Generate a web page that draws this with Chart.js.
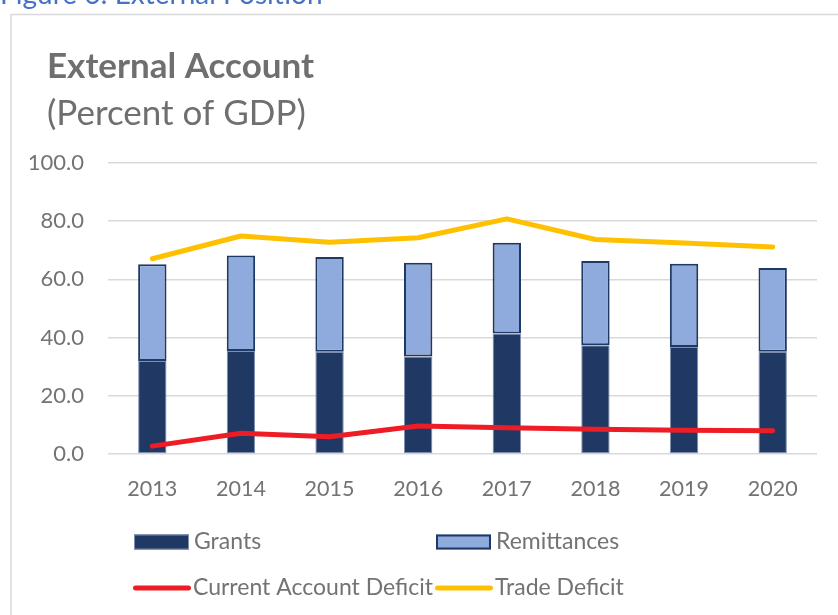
<!DOCTYPE html>
<html>
<head>
<meta charset="utf-8">
<script src="https://cdn.jsdelivr.net/npm/chart.js@4"></script>
<style>
  html, body { margin: 0; padding: 0; background: #fff; }
  #wrap { position: relative; width: 838px; height: 615px; overflow: hidden; }
  canvas { display: block; }
</style>
</head>
<body>
<div id="wrap"><canvas id="chart" width="838" height="615"></canvas></div>
<script>
const years = ['2013', '2014', '2015', '2016', '2017', '2018', '2019', '2020'];
const grants = [32.0, 35.4, 35.1, 33.5, 41.4, 37.4, 36.8, 35.1];
const remittances = [33.2, 32.8, 32.6, 32.2, 31.2, 28.9, 28.6, 28.8];
const currentAccountDeficit = [2.7, 7.1, 5.9, 9.6, 9.0, 8.5, 8.2, 8.0];
const tradeDeficit = [67.1, 74.9, 72.8, 74.3, 80.8, 73.7, 72.5, 71.1];

const FONT = 'Lato, "Open Sans", sans-serif';
const TEXT = '#737373';

// title, caption and frame are drawn first, the 2x2 legend last
const decor = {
  id: 'decor',
  beforeDraw(chart) {
    const ctx = chart.ctx;
    ctx.save();
    ctx.fillStyle = '#fff';
    ctx.fillRect(0, 0, chart.width, chart.height);

    ctx.strokeStyle = '#d9d9d9';
    ctx.lineWidth = 1.5;
    ctx.beginPath();
    ctx.moveTo(11, chart.height);
    ctx.lineTo(11, 14.5);
    ctx.lineTo(chart.width, 14.5);
    ctx.stroke();

    ctx.textBaseline = 'alphabetic';
    ctx.fillStyle = '#4472C4';
    ctx.font = '28px ' + FONT;
    ctx.fillText('Figure 6: External Position', 0, 4);

    ctx.fillStyle = '#6f6f6f';
    ctx.font = 'bold 35px ' + FONT;
    ctx.fillText('External Account', 47, 78);
    ctx.font = '35px ' + FONT;
    ctx.fillText('(Percent of GDP)', 47, 125);
    ctx.restore();
  },
  afterDraw(chart) {
    const ctx = chart.ctx;
    const slots = [[134, 542], [436, 542], [133, 588], [435, 588]];
    ctx.save();
    ctx.font = '23px ' + FONT;
    ctx.textBaseline = 'middle';
    chart.data.datasets.forEach((ds, i) => {
      const [x, y] = slots[i];
      if (ds.type === 'line') {
        ctx.strokeStyle = ds.borderColor;
        ctx.lineWidth = 5;
        ctx.lineCap = 'round';
        ctx.beginPath();
        ctx.moveTo(x + 2.5, y);
        ctx.lineTo(x + 55.5, y);
        ctx.stroke();
      } else {
        const bw = ds.borderWidth;
        ctx.fillStyle = ds.backgroundColor;
        ctx.fillRect(x, y - 7.5, 55, 15);
        ctx.strokeStyle = ds.borderColor;
        ctx.lineWidth = bw;
        ctx.strokeRect(x + bw / 2, y - 7.5 + bw / 2, 55 - bw, 15 - bw);
      }
      ctx.fillStyle = TEXT;
      ctx.fillText(ds.label, x + 60, y);
    });
    ctx.restore();
  }
};

function draw() {
  new Chart(document.getElementById('chart'), {
    data: {
      labels: years,
      datasets: [
        {
          type: 'bar',
          label: 'Grants',
          data: grants,
          backgroundColor: '#1F3864',
          borderColor: '#7f8fae',
          borderWidth: 1,
          borderSkipped: false,
          order: 1
        },
        {
          type: 'bar',
          label: 'Remittances',
          data: remittances,
          backgroundColor: '#8FAADC',
          borderColor: '#1F3864',
          borderWidth: 2,
          borderSkipped: false,
          order: 1
        },
        {
          type: 'line',
          label: 'Current Account Deficit',
          data: currentAccountDeficit,
          borderColor: '#EE1C25',
          borderWidth: 5,
          borderCapStyle: 'round',
          borderJoinStyle: 'round',
          pointRadius: 0,
          stack: 'cad',
          order: 0
        },
        {
          type: 'line',
          label: 'Trade Deficit',
          data: tradeDeficit,
          borderColor: '#FFC000',
          borderWidth: 5,
          borderCapStyle: 'round',
          borderJoinStyle: 'round',
          pointRadius: 0,
          stack: 'trade',
          order: 0
        }
      ]
    },
    options: {
      responsive: false,
      animation: false,
      layout: { padding: { top: 163, right: 21, left: 0, bottom: 0 } },
      datasets: { bar: { barPercentage: 0.32, categoryPercentage: 1 } },
      plugins: {
        legend: { display: false },
        tooltip: { enabled: false }
      },
      scales: {
        x: {
          stacked: true,
          grid: { display: false },
          border: { display: false },
          ticks: { font: { family: FONT, size: 21.5 }, color: TEXT, padding: 14 },
          afterFit: (s) => { s.height = 161; }
        },
        y: {
          stacked: true,
          min: 0,
          max: 100,
          ticks: {
            stepSize: 20,
            font: { family: FONT, size: 22 },
            color: TEXT,
            padding: 24,
            callback: (v) => v.toFixed(1)
          },
          grid: { color: '#d9d9d9', lineWidth: 1.5, drawTicks: false },
          border: { display: false },
          afterFit: (s) => { s.width = 108; }
        }
      }
    },
    plugins: [decor]
  });
}

if (document.fonts && document.fonts.load) {
  Promise.all([
    document.fonts.load('21px Lato'),
    document.fonts.load('bold 35px Lato')
  ]).then(draw, draw);
} else {
  draw();
}
</script>
</body>
</html>
